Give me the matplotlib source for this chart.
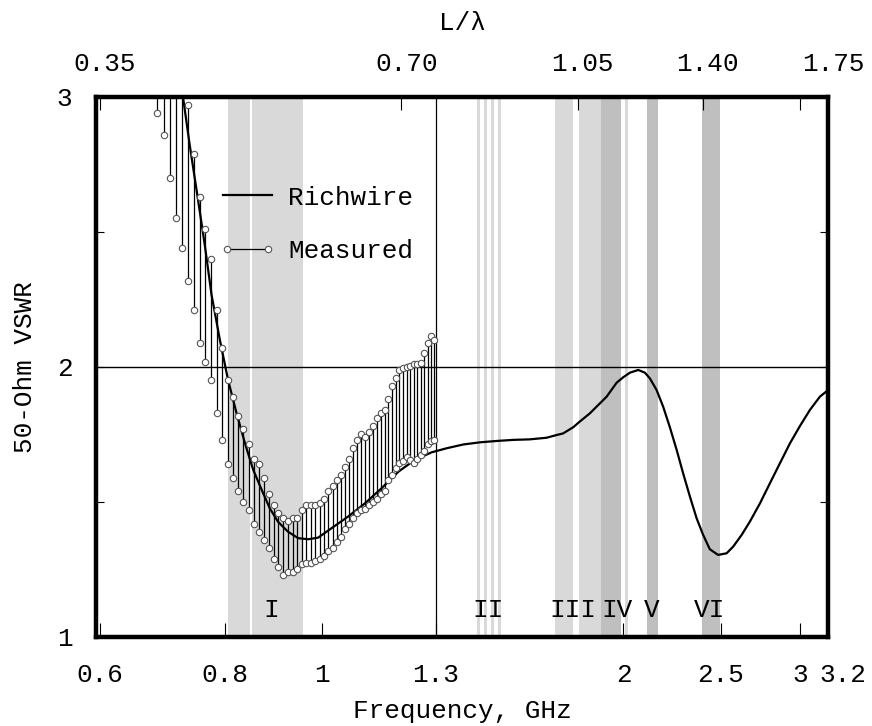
import matplotlib
matplotlib.use("Agg")
import matplotlib.pyplot as plt
from matplotlib.lines import Line2D
from matplotlib.legend_handler import HandlerLine2D
from matplotlib.ticker import FixedLocator, NullLocator
from matplotlib.transforms import ScaledTranslation

plt.rcParams['font.family'] = ['Liberation Mono', 'DejaVu Sans Mono']
plt.rcParams['font.size'] = 18.7

# measured VSWR spread (GHz, min, max)
meas_f = [0.685, 0.695, 0.705, 0.715, 0.725, 0.735, 0.745, 0.755, 0.765, 0.775,
          0.785, 0.795, 0.805, 0.815, 0.825, 0.835, 0.845, 0.855, 0.865, 0.875,
          0.885, 0.895, 0.905, 0.915, 0.925, 0.935, 0.945, 0.955, 0.965, 0.975,
          0.985, 0.995, 1.005, 1.015, 1.025, 1.035, 1.045, 1.055, 1.065, 1.075,
          1.085, 1.095, 1.105, 1.115, 1.125, 1.135, 1.145, 1.155, 1.165, 1.175,
          1.185, 1.195, 1.205, 1.215, 1.225, 1.235, 1.245, 1.255, 1.265, 1.275,
          1.285, 1.295]
meas_lo = [2.94, 2.86, 2.70, 2.55, 2.44, 2.32, 2.21, 2.09, 2.02, 1.95,
           1.83, 1.73, 1.64, 1.59, 1.54, 1.50, 1.47, 1.42, 1.39, 1.36,
           1.33, 1.29, 1.26, 1.23, 1.24, 1.24, 1.25, 1.27, 1.275, 1.275,
           1.28, 1.29, 1.30, 1.32, 1.33, 1.35, 1.37, 1.40, 1.42, 1.44,
           1.46, 1.47, 1.475, 1.49, 1.50, 1.51, 1.53, 1.54, 1.58, 1.60,
           1.625, 1.645, 1.65, 1.665, 1.655, 1.645, 1.66, 1.675, 1.69, 1.715,
           1.725, 1.73]
meas_hi = [3.82, 3.65, 3.48, 3.31, 3.14, 2.97, 2.79, 2.63, 2.51, 2.40,
           2.21, 2.07, 1.95, 1.89, 1.82, 1.77, 1.715, 1.66, 1.64, 1.59,
           1.53, 1.49, 1.46, 1.44, 1.43, 1.44, 1.44, 1.47, 1.49, 1.49,
           1.49, 1.495, 1.51, 1.54, 1.56, 1.58, 1.60, 1.63, 1.66, 1.70,
           1.73, 1.75, 1.74, 1.76, 1.78, 1.81, 1.83, 1.84, 1.88, 1.93,
           1.96, 1.99, 1.995, 2.00, 2.005, 2.01, 2.012, 2.015, 2.05, 2.09,
           2.115, 2.10]

# Richwire simulation
sim_f = [0.727, 0.738, 0.751, 0.764, 0.776, 0.791, 0.806, 0.822, 0.838, 0.854,
         0.871, 0.887, 0.904, 0.925, 0.947, 0.969, 0.9915, 1.0225, 1.062, 1.104,
         1.147, 1.192, 1.238, 1.287, 1.332, 1.384, 1.438, 1.494, 1.552, 1.613,
         1.676, 1.715, 1.741, 1.782, 1.809, 1.851, 1.880, 1.924, 1.969, 1.999,
         2.030, 2.069, 2.101, 2.125, 2.158, 2.191, 2.225, 2.260, 2.294, 2.330,
         2.366, 2.402, 2.439, 2.486, 2.535, 2.574, 2.624, 2.674, 2.737, 2.800,
         2.865, 2.932, 3.000, 3.070, 3.141, 3.202]
sim_vswr = [2.995, 2.822, 2.637, 2.452, 2.267, 2.10, 1.952, 1.828, 1.717, 1.619,
            1.544, 1.477, 1.427, 1.39, 1.366, 1.362, 1.368, 1.403, 1.446, 1.495,
            1.551, 1.612, 1.656, 1.684, 1.699, 1.713, 1.721, 1.726, 1.730, 1.732,
            1.738, 1.748, 1.754, 1.777, 1.798, 1.828, 1.853, 1.890, 1.942, 1.962,
            1.979, 1.989, 1.979, 1.958, 1.915, 1.853, 1.777, 1.693, 1.606, 1.520,
            1.440, 1.378, 1.325, 1.304, 1.310, 1.335, 1.378, 1.427, 1.495, 1.569,
            1.643, 1.717, 1.781, 1.841, 1.890, 1.915]

# shaded frequency zones
band_lo = [0.805, 0.851, 1.427, 1.452, 1.475, 1.500, 1.708, 1.805, 1.899, 2.006, 2.109, 2.397]
band_hi = [0.8475, 0.958, 1.438, 1.462, 1.485, 1.511, 1.779, 1.899, 1.987, 2.022, 2.166, 2.496]
band_col = ['#d9d9d9'] * 8 + ['#bfbfbf', '#d9d9d9', '#bfbfbf', '#bfbfbf']

zone_names = ['I', 'II', 'III', 'IV', 'V', 'VI']
zone_f = [0.891, 1.4645, 1.780, 1.970, 2.135, 2.437]

x_ticks = [0.6, 0.8, 1, 1.3, 2, 2.5, 3, 3.2]
x_labels = ['0.6', '0.8', '1', '1.3', '2', '2.5', '3', '3.2']
top_vals = [0.35, 0.70, 1.05, 1.40, 1.75]
L_ant = 0.175  # m, L/lambda = L * f / c

fig = plt.figure(figsize=(8.72, 7.26), dpi=100)
ax = fig.add_axes([0.1101, 0.1226, 0.8394, 0.7438])

for lo, hi, c in zip(band_lo, band_hi, band_col):
    ax.axvspan(lo, hi, color=c, lw=0, zorder=0)

ax.axhline(2.0, color='k', lw=1.0, zorder=1)
ax.axvline(1.3, color='k', lw=0.9, zorder=1)

ax.vlines(meas_f, meas_lo, meas_hi, color='k', lw=0.9, zorder=3)
mk = dict(ls='none', marker='o', ms=4.6, mfc='white', mec='#555555', mew=0.8, zorder=5)
ax.plot(meas_f, meas_lo, **mk)
ax.plot(meas_f, meas_hi, **mk)
h_sim, = ax.plot(sim_f, sim_vswr, color='k', lw=1.6, zorder=4)

for name, f in zip(zone_names, zone_f):
    ax.text(f, 1.073, name, ha='center', va='baseline')

h_meas = Line2D([], [], color='k', lw=0.9, marker='o', ms=4.6,
                mfc='white', mec='#555555', mew=0.8)
ax.legend([h_sim, h_meas], ['Richwire', 'Measured'], loc='upper left',
          bbox_to_anchor=(0.1735, 0.836), frameon=False, borderpad=0,
          borderaxespad=0, handlelength=1.88, handletextpad=0.62,
          labelspacing=1.13,
          handler_map={h_meas: HandlerLine2D(marker_pad=0.15, numpoints=2)})

ax.set_xscale('log')
ax.set_xlim(0.595, 3.2)
ax.set_ylim(1, 3)
ax.xaxis.set_major_locator(FixedLocator(x_ticks))
ax.xaxis.set_minor_locator(NullLocator())
ax.set_xticklabels(x_labels)
ax.set_yticks([1, 2, 3])
ax.set_yticks([1.5, 2.5], minor=True)
ax.tick_params(axis='x', which='major', direction='in', length=10, width=0.8,
               pad=19, top=False)
ax.tick_params(axis='y', which='both', direction='in', width=0.8,
               left=True, right=True, pad=17)
ax.tick_params(axis='y', which='minor', length=6)
ax.tick_params(axis='y', which='major', length=6)
for s in ax.spines.values():
    s.set_linewidth(3.2)
ax.set_xlabel('Frequency, GHz', labelpad=8.5)
ax.set_ylabel('50-Ohm VSWR', labelpad=14)

ax_top = ax.twiny()
ax_top.set_xscale('log')
ax_top.set_xlim(ax.get_xlim())
ax_top.xaxis.set_major_locator(FixedLocator([v * 0.3 / L_ant for v in top_vals]))
ax_top.xaxis.set_minor_locator(NullLocator())
ax_top.set_xticklabels(['%.2f' % v for v in top_vals])
ax_top.tick_params(axis='x', direction='in', length=9, width=0.8, pad=15)
for s in ax_top.spines.values():
    s.set_visible(False)
ax_top.set_xlabel('L/λ', labelpad=16)

# label shifts as in the original
pt = fig.dpi_scale_trans
for lab, dx in zip(ax_top.get_xticklabels(), [3.6, 3.6, 3.6, 3.0, 23.8]):
    lab.set_transform(lab.get_transform() + ScaledTranslation(dx / 72, 0, pt))
lab32 = ax.get_xticklabels()[-1]
lab32.set_transform(lab32.get_transform() + ScaledTranslation(10.8 / 72, 0, pt))

fig.savefig('out.png', dpi=100)
